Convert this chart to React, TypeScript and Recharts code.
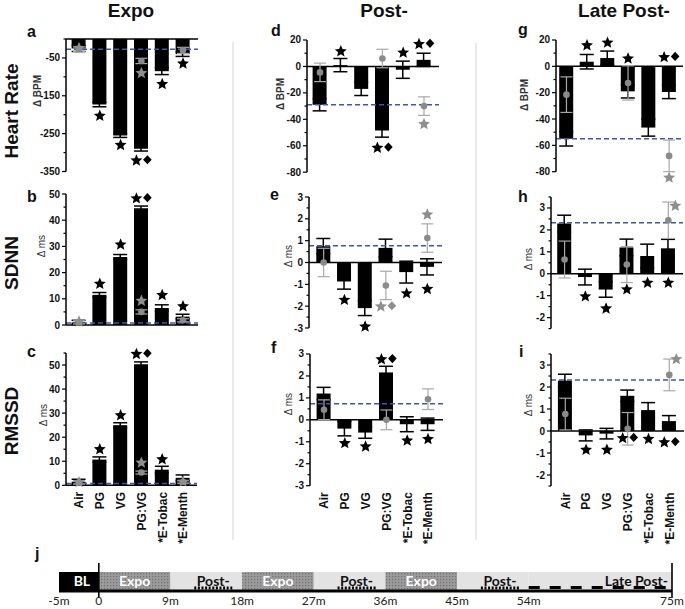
import React from 'react';
import {
  ComposedChart,
  BarChart,
  Bar,
  Scatter,
  XAxis,
  YAxis,
  ErrorBar,
  ReferenceLine,
  ReferenceDot,
} from 'recharts';

const categories = ['Air', 'PG', 'VG', 'PG:VG', '*E-Tobac', '*E-Menth'];

// Heart rate, Δ BPM
const hrExpo = [-25, -173, -255, -290, -85, -40];
const hrExpoSem = [8, 6, 5, 6, 9, 6];
const hrExpoGray = [-27, null, null, -58, null, -30];
const hrExpoGraySem = [6, null, null, 7, null, 8];
const hrExpoMarks = [
  ['Air', -22, 's', 'g'], ['PG', -201, 's', 'k'], ['VG', -278, 's', 'k'], ['PG:VG', -319, 'sd', 'k'],
  ['PG:VG', -88, 's', 'g'], ['*E-Tobac', -117, 's', 'k'], ['*E-Menth', -63, 's', 'k'],
];
const hrPost = [-29, 1, -17, -48.5, -2.5, 5];
const hrPostSem = [4.6, 5, 5, 5, 6.5, 5];
const hrPostGray = [-4.5, null, null, 6, null, -30];
const hrPostGraySem = [7, null, null, 7, null, 7];
const hrPostMarks = [
  ['PG', 12, 's', 'k'], ['PG:VG', -61, 'sd', 'k'], ['*E-Tobac', 11, 's', 'k'],
  ['*E-Menth', 17.5, 'sd', 'k'], ['*E-Menth', -43, 's', 'g'],
];
const hrLate = [-55, 3.5, 6.3, -19, -46.5, -19.5];
const hrLateSem = [5.5, 5.5, 5.3, 5, 6.5, 5];
const hrLateGray = [-21.5, null, null, -12.6, null, -68];
const hrLateGraySem = [13.5, null, null, 13, null, 12];
const hrLateMarks = [
  ['PG', 16.5, 's', 'k'], ['VG', 18.5, 's', 'k'], ['PG:VG', 6.5, 's', 'k'],
  ['*E-Menth', 7.5, 'sd', 'k'], ['*E-Menth', -84, 's', 'g'],
];

// SDNN, Δ ms
const sdnnExpo = [1, 11.5, 26, 44.6, 6.5, 3.2];
const sdnnExpoSem = [0.8, 0.9, 0.9, 0.8, 1.2, 0.9];
const sdnnExpoGray = [1.0, null, null, 5, null, 1.8];
const sdnnExpoGraySem = [0.6, null, null, 0.8, null, 0.6];
const sdnnExpoMarks = [
  ['Air', 1.6, 's', 'g'], ['PG', 16, 's', 'k'], ['VG', 31, 's', 'k'], ['PG:VG', 48.6, 'sd', 'k'],
  ['PG:VG', 9.5, 's', 'g'], ['*E-Tobac', 11.7, 's', 'k'], ['*E-Menth', 7.4, 's', 'k'],
];
const sdnnPost = [0.75, -0.87, -2.09, 0.67, -0.44, -0.2];
const sdnnPostSem = [0.35, 0.35, 0.34, 0.4, 0.5, 0.37];
const sdnnPostGray = [0, null, null, -1.05, null, 1.12];
const sdnnPostGraySem = [0.65, null, null, 0.65, null, 0.65];
const sdnnPostMarks = [
  ['PG', -1.68, 's', 'k'], ['VG', -2.9, 's', 'k'], ['PG:VG', -1.98, 'sd', 'g'],
  ['*E-Tobac', -1.38, 's', 'k'], ['*E-Menth', -1.18, 's', 'k'], ['*E-Menth', 2.23, 's', 'g'],
];
const sdnnLate = [2.29, -0.15, -0.72, 1.2, 0.81, 1.16];
const sdnnLateSem = [0.38, 0.36, 0.35, 0.38, 0.54, 0.41];
const sdnnLateGray = [0.65, null, null, 0.42, null, 2.44];
const sdnnLateGraySem = [0.84, null, null, 0.82, null, 0.83];
const sdnnLateMarks = [
  ['PG', -1.0, 's', 'k'], ['VG', -1.55, 's', 'k'], ['PG:VG', -0.68, 's', 'k'],
  ['*E-Tobac', -0.38, 's', 'k'], ['*E-Menth', -0.38, 's', 'k'], ['*E-Menth', 3.13, 'sr', 'g'],
];

// RMSSD, Δ ms
const rmssdExpo = [1.5, 10.7, 25, 50.3, 6.5, 3.1];
const rmssdExpoSem = [1, 1.1, 1, 1, 1.4, 1.2];
const rmssdExpoGray = [1.2, null, null, 5.3, null, 1.4];
const rmssdExpoGraySem = [0.7, null, null, 0.6, null, 0.5];
const rmssdExpoMarks = [
  ['Air', 1.6, 's', 'g'], ['PG', 15.3, 's', 'k'], ['VG', 29.4, 's', 'k'], ['PG:VG', 54.9, 'sd', 'k'],
  ['PG:VG', 9.7, 's', 'g'], ['*E-Tobac', 11.1, 's', 'k'], ['*E-Menth', 1.8, 's', 'g'],
];
const rmssdPost = [1.2, -0.4, -0.58, 2.16, -0.2, -0.2];
const rmssdPostSem = [0.28, 0.33, 0.26, 0.28, 0.34, 0.28];
const rmssdPostGray = [0.46, null, null, 0, null, 0.94];
const rmssdPostGraySem = [0.45, null, null, 0.45, null, 0.47];
const rmssdPostMarks = [
  ['PG', -1.03, 's', 'k'], ['VG', -1.18, 's', 'k'], ['PG:VG', 2.79, 'sd', 'k'],
  ['*E-Tobac', -0.91, 's', 'k'], ['*E-Menth', -0.84, 's', 'k'],
];
const rmssdLate = [2.29, -0.2, -0.12, 1.6, 0.95, 0.45];
const rmssdLateSem = [0.29, 0.25, 0.24, 0.26, 0.34, 0.25];
const rmssdLateGray = [0.77, null, null, 0.1, null, 2.55];
const rmssdLateGraySem = [0.72, null, null, 0.74, null, 0.72];
const rmssdLateMarks = [
  ['PG', -0.82, 's', 'k'], ['VG', -0.82, 's', 'k'], ['PG:VG', -0.29, 'sd', 'k'],
  ['*E-Tobac', -0.33, 's', 'k'], ['*E-Menth', -0.48, 'sd', 'k'], ['*E-Menth', 3.3, 'sr', 'g'],
];

// y ticks
const hrExpoTicks = [-350, -300, -250, -200, -150, -100, -50, 0];
const hrExpoTickLabels = [-350, -250, -150, -50];
const hrTicks = [-80, -70, -60, -50, -40, -30, -20, -10, 0, 10, 20];
const hrTickLabels = [-80, -60, -40, -20, 0, 20];
const sdnnExpoTicks = [0, 5, 10, 15, 20, 25, 30, 35, 40, 45, 50];
const rmssdExpoTicks = [0, 5, 10, 15, 20, 25, 30, 35, 40, 45, 50, 55];
const msExpoTickLabels = [0, 10, 20, 30, 40, 50];
const msPostTicks = [-3, -2.5, -2, -1.5, -1, -0.5, 0, 0.5, 1, 1.5, 2, 2.5, 3];
const msPostTickLabels = [-3, -2, -1, 0, 1, 2, 3];
const msLateTicks = [-2.5, -2, -1.5, -1, -0.5, 0, 0.5, 1, 1.5, 2, 2.5, 3, 3.5];
const msLateTickLabels = [-2, -1, 0, 1, 2, 3];

// timeline (j)
const phaseNames = ['BL', 'Expo', 'Post-', 'Expo', 'Post-', 'Expo', 'Post-', 'Late Post-'];
const phaseSpan = [-5, 9, 9, 9, 9, 9, 9, 18]; // late post- is drawn shortened, as in the schematic
const timeTicks = [-5, 0, 9, 18, 27, 36, 45, 54, 72];
const timeTickLabels = ['-5m', '0', '9m', '18m', '27m', '36m', '45m', '54m', '75m'];

const YW = 44;
const MT = 10;
const MB = 14;

const panels = [
  { id: 'a', mean: hrExpo, sem: hrExpoSem, gray: hrExpoGray, graySem: hrExpoGraySem, marks: hrExpoMarks, ref: -27,
    domain: [-350, 0], ticks: hrExpoTicks, labels: hrExpoTickLabels, box: { ax: 66, top: 38.5, bottom: 171, right: 198, pl: 2.6, pr: 4.6 } },
  { id: 'b', mean: sdnnExpo, sem: sdnnExpoSem, gray: sdnnExpoGray, graySem: sdnnExpoGraySem, marks: sdnnExpoMarks, ref: 0.8,
    domain: [0, 50], ticks: sdnnExpoTicks, labels: msExpoTickLabels, box: { ax: 66, top: 194, bottom: 325, right: 198, pl: 2.6, pr: 4.6 } },
  { id: 'c', mean: rmssdExpo, sem: rmssdExpoSem, gray: rmssdExpoGray, graySem: rmssdExpoGraySem, marks: rmssdExpoMarks, ref: 0.7,
    domain: [0, 55], ticks: rmssdExpoTicks, labels: msExpoTickLabels, cats: true, box: { ax: 66, top: 352.7, bottom: 485, right: 197, pl: 2.6, pr: 3.6 } },
  { id: 'd', mean: hrPost, sem: hrPostSem, gray: hrPostGray, graySem: hrPostGraySem, marks: hrPostMarks, ref: -29,
    domain: [-80, 20], ticks: hrTicks, labels: hrTickLabels, box: { ax: 307, top: 39.5, bottom: 171.7, right: 439, pl: 2.6, pr: 4.6 } },
  { id: 'e', mean: sdnnPost, sem: sdnnPostSem, gray: sdnnPostGray, graySem: sdnnPostGraySem, marks: sdnnPostMarks, ref: 0.77,
    domain: [-3, 3], ticks: msPostTicks, labels: msPostTickLabels, box: { ax: 309, top: 197.3, bottom: 328.3, right: 442, pl: 4.3, pr: 4.3 } },
  { id: 'f', mean: rmssdPost, sem: rmssdPostSem, gray: rmssdPostGray, graySem: rmssdPostGraySem, marks: rmssdPostMarks, ref: 0.73,
    domain: [-3, 3], ticks: msPostTicks, labels: msPostTickLabels, cats: true, box: { ax: 310, top: 354.3, bottom: 486, right: 443, pl: 3.6, pr: 4.6 } },
  { id: 'g', mean: hrLate, sem: hrLateSem, gray: hrLateGray, graySem: hrLateGraySem, marks: hrLateMarks, ref: -55,
    domain: [-80, 20], ticks: hrTicks, labels: hrTickLabels, box: { ax: 556, top: 40, bottom: 171.7, right: 683, pl: 0.2, pr: 3.6 } },
  { id: 'h', mean: sdnnLate, sem: sdnnLateSem, gray: sdnnLateGray, graySem: sdnnLateGraySem, marks: sdnnLateMarks, ref: 2.33,
    domain: [-2.5, 3.5], ticks: msLateTicks, labels: msLateTickLabels, box: { ax: 551, top: 196.7, bottom: 328.3, right: 683, pl: 3.2, pr: 4.3 } },
  { id: 'i', mean: rmssdLate, sem: rmssdLateSem, gray: rmssdLateGray, graySem: rmssdLateGraySem, marks: rmssdLateMarks, ref: 2.32,
    domain: [-2.5, 3.5], ticks: msLateTicks, labels: msLateTickLabels, cats: true, box: { ax: 551, top: 354, bottom: 486, right: 684, pl: 3.9, pr: 4.3 } },
];

function YTick(props: any) {
  const { x, y, payload, labels } = props;
  const on = labels.some((l: number) => Math.abs(l - Number(payload.value)) < 1e-6);
  return (
    <g>
      <line x1={x - (on ? 4 : 2.5)} x2={x} y1={y} y2={y} stroke="#000" strokeWidth={1.2} />
      {on && (
        <text x={x - 6} y={y} dy="0.35em" textAnchor="end" fontSize={10} fontWeight="bold" fill="#111">
          {String(payload.value)}
        </text>
      )}
    </g>
  );
}

function CatTick(props: any) {
  const { x, y, payload } = props;
  const ty = y + 6.5;
  return (
    <text x={x} y={ty} transform={`rotate(-90 ${x} ${ty})`} textAnchor="end" dy="0.36em" fontSize={12} fontWeight="bold" fill="#111">
      {payload.value}
    </text>
  );
}

function starPts(cx: number, cy: number, R: number) {
  const pts: string[] = [];
  for (let k = 0; k < 10; k++) {
    const a = -Math.PI / 2 + (k * Math.PI) / 5;
    const rr = k % 2 === 0 ? R : R * 0.45;
    pts.push(`${cx + rr * Math.cos(a)},${cy + rr * Math.sin(a)}`);
  }
  return pts.join(' ');
}

function Marker({ cx, cy, kind, color }: any) {
  if (cx == null || cy == null) return null;
  const fill = color === 'g' ? '#8e8e8e' : '#000';
  if (kind === 'sd') {
    const dx = cx + 6;
    return (
      <g>
        <polygon points={starPts(cx - 5, cy + 0.8, 6.3)} fill={fill} />
        <polygon points={`${dx},${cy - 4.6} ${dx + 4.3},${cy} ${dx},${cy + 4.6} ${dx - 4.3},${cy}`} fill={fill} />
      </g>
    );
  }
  const sx = kind === 'sr' ? cx + 7 : cx;
  return <polygon points={starPts(sx, cy + 0.8, 6.3)} fill={fill} />;
}

function GrayDot(p: any) {
  if (p.cy == null || Number.isNaN(p.cy)) return null;
  return <circle cx={p.cx} cy={p.cy} r={3.3} fill="#8a8a8a" />;
}

function Panel({ cfg }: any) {
  const { box } = cfg;
  const pw = box.right - box.ax;
  const ph = box.bottom - box.top;
  const XH = cfg.cats ? 70 : 0;
  const data = categories.map((c, i) => ({
    cat: c,
    v: cfg.mean[i],
    e: cfg.sem[i],
    g: cfg.gray[i],
    ge: cfg.graySem[i],
  }));
  return (
    <div style={{ position: 'absolute', left: box.ax - YW, top: box.top - MT }}>
      <ComposedChart
        width={YW + pw}
        height={MT + ph + XH + MB}
        data={data}
        margin={{ top: MT, right: 0, bottom: MB, left: 0 }}
      >
        <XAxis
          dataKey="cat"
          type="category"
          hide={!cfg.cats}
          height={XH}
          axisLine={false}
          tickLine={false}
          tickSize={0}
          tickMargin={0}
          interval={0}
          padding={{ left: box.pl, right: box.pr }}
          tick={<CatTick />}
        />
        <YAxis
          type="number"
          domain={cfg.domain}
          ticks={cfg.ticks}
          interval={0}
          width={YW}
          tickLine={false}
          tickSize={0}
          tickMargin={0}
          axisLine={{ stroke: '#000', strokeWidth: 1.5 }}
          tick={(p: any) => <YTick {...p} labels={cfg.labels} />}
        />
        <Bar dataKey="v" fill="#000" barSize={14} isAnimationActive={false}>
          <ErrorBar dataKey="e" width={7} stroke="#000" strokeWidth={1.5} direction="y" />
        </Bar>
        <ReferenceLine y={0} stroke="#000" strokeWidth={1.5} />
        <ReferenceLine y={cfg.ref} stroke="#3b55c4" strokeDasharray="5 3" strokeWidth={1.5} />
        <Scatter dataKey="g" isAnimationActive={false} shape={GrayDot}>
          <ErrorBar dataKey="ge" width={6} stroke="#a8a8a8" strokeWidth={1.2} direction="y" />
        </Scatter>
        {cfg.marks.map((m: any, j: number) => (
          <ReferenceDot
            key={j}
            x={m[0]}
            y={m[1]}
            r={6}
            ifOverflow="visible"
            shape={(p: any) => <Marker cx={p.cx} cy={p.cy} kind={m[2]} color={m[3]} />}
          />
        ))}
      </ComposedChart>
    </div>
  );
}

function Phase(props: any) {
  const { x, y, width, height, idx } = props;
  const x0 = Math.min(x, x + width);
  const w = Math.abs(width);
  const name = phaseNames[idx];
  const mid = x0 + w / 2;
  const base = y + height / 2 + 5;
  const font = { fontFamily: 'Lato, sans-serif', fontSize: 14, fontWeight: 'bold' as const };
  if (name === 'BL') {
    return (
      <g>
        <rect x={x0} y={y} width={w} height={height} fill="#000" />
        <text x={mid + 3} y={base} textAnchor="middle" fill="#fff" {...font}>BL</text>
      </g>
    );
  }
  if (name === 'Expo') {
    const pid = `expoDots${idx}`;
    return (
      <g>
        <defs>
          <pattern id={pid} patternUnits="userSpaceOnUse" width={3} height={3}>
            <rect width={3} height={3} fill="#9b9b9b" />
            <rect width={1.2} height={1.2} fill="#707070" />
          </pattern>
        </defs>
        <rect x={x0} y={y} width={w} height={height} fill={`url(#${pid})`} />
        <text x={mid} y={base} textAnchor="middle" fill="#fff" {...font}>Expo</text>
      </g>
    );
  }
  if (name === 'Post-') {
    const c = mid + 7;
    return (
      <g>
        <rect x={x0} y={y} width={w} height={height} fill="#e3e3e3" />
        <text x={c} y={base} textAnchor="middle" fill="#111" {...font}>Post-</text>
        <line x1={c - 19} x2={c + 19} y1={y + height - 2} y2={y + height - 2} stroke="#000" strokeWidth={3} strokeDasharray="2 1.6" />
      </g>
    );
  }
  return (
    <g>
      <rect x={x0} y={y} width={w} height={height} fill="#e3e3e3" />
      <text x={x0 + w - 4} y={base} textAnchor="end" fill="#111" {...font}>Late Post-</text>
      <line x1={x0} x2={x0 + w - 4} y1={y + height - 2.5} y2={y + height - 2.5} stroke="#000" strokeWidth={3} strokeDasharray="11 10" />
    </g>
  );
}

function Timeline() {
  const row: any = { row: 'time' };
  phaseSpan.forEach((v, i) => (row[`p${i}`] = v));
  const vline = (p: any) => (
    <line
      x1={p.x1}
      x2={p.x2}
      y1={Math.min(p.y1, p.y2) - 8}
      y2={Math.max(p.y1, p.y2) + 6}
      stroke="#000"
      strokeWidth={1.6}
    />
  );
  return (
    <div style={{ position: 'absolute', left: 29, top: 561 }}>
      <BarChart
        layout="vertical"
        width={656}
        height={48}
        data={[row]}
        stackOffset="sign"
        barCategoryGap={0}
        margin={{ top: 10, right: 13, bottom: 0, left: 30 }}
      >
        <XAxis
          type="number"
          domain={[-5, 72]}
          ticks={timeTicks}
          interval={0}
          height={18}
          tickLine={false}
          tickSize={0}
          tickMargin={5}
          axisLine={{ stroke: '#000', strokeWidth: 3 }}
          tickFormatter={(v: number) => timeTickLabels[timeTicks.indexOf(v)]}
          tick={{ fontSize: 12, fill: '#222', fontFamily: 'Lato, sans-serif' }}
        />
        <YAxis type="category" dataKey="row" hide />
        {phaseNames.map((n, i) => (
          <Bar
            key={i}
            dataKey={`p${i}`}
            stackId="t"
            barSize={18}
            isAnimationActive={false}
            shape={(p: any) => <Phase {...p} idx={i} />}
          />
        ))}
        <ReferenceLine x={0} ifOverflow="visible" shape={vline} />
        <ReferenceLine x={72} ifOverflow="visible" shape={vline} />
      </BarChart>
    </div>
  );
}

function Overlay() {
  const rowLabel = (t: string, cy: number) => (
    <text transform={`translate(17.5,${cy}) rotate(-90)`} textAnchor="middle" fontSize={19} fontWeight="bold" fill="#111">
      {t}
    </text>
  );
  const axisLabel = (t: string, cx: number, cy: number, bold: boolean) => (
    <text
      transform={`translate(${cx},${cy}) rotate(-90)`}
      textAnchor="middle"
      dominantBaseline="central"
      fontSize={10}
      fontWeight={bold ? 'bold' : 'normal'}
      fill="#333"
    >
      {t}
    </text>
  );
  const letter = (t: string, x: number, y: number) => (
    <text x={x} y={y} fontSize={16} fontWeight="bold" fill="#111">{t}</text>
  );
  const title = (t: string, x: number) => (
    <text x={x} y={17} textAnchor="middle" fontSize={19} fontWeight="bold" fill="#111">{t}</text>
  );
  return (
    <svg width={685} height={609} style={{ position: 'absolute', left: 0, top: 0 }}>
      <line x1={233} x2={233} y1={42} y2={540} stroke="#d4d4d4" strokeWidth={1} />
      <line x1={476} x2={476} y1={43} y2={540} stroke="#d4d4d4" strokeWidth={1} />
      {title('Expo', 131)}
      {title('Post-', 384)}
      {title('Late Post-', 624)}
      {rowLabel('Heart Rate', 111)}
      {rowLabel('SDNN', 263)}
      {rowLabel('RMSSD', 421)}
      {letter('a', 27, 37)}
      {letter('d', 271, 36)}
      {letter('g', 518, 35)}
      {letter('b', 27, 202)}
      {letter('e', 270, 200)}
      {letter('h', 518, 202)}
      {letter('c', 27, 357)}
      {letter('f', 271, 353)}
      {letter('i', 519, 357)}
      {letter('j', 35, 559)}
      {axisLabel('Δ BPM', 37, 91, true)}
      {axisLabel('Δ BPM', 280, 94, true)}
      {axisLabel('Δ BPM', 524, 95, true)}
      {axisLabel('Δ ms', 41.5, 246, false)}
      {axisLabel('Δ ms', 288.5, 256, false)}
      {axisLabel('Δ ms', 528.5, 259, false)}
      {axisLabel('Δ ms', 43.5, 415, false)}
      {axisLabel('Δ ms', 288.5, 404, false)}
      {axisLabel('Δ ms', 528.5, 405, false)}
    </svg>
  );
}

export default function App() {
  return (
    <div
      style={{
        position: 'absolute',
        left: 0,
        top: 0,
        width: 685,
        height: 609,
        background: '#fff',
        overflow: 'hidden',
        fontFamily: '"Liberation Sans", Arial, sans-serif',
      }}
    >
      <Overlay />
      {panels.map((p) => (
        <Panel key={p.id} cfg={p} />
      ))}
      <Timeline />
    </div>
  );
}
